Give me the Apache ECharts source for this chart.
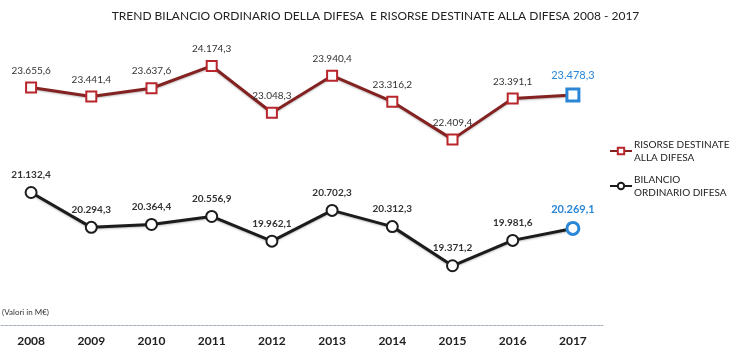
<!DOCTYPE html>
<html><head><meta charset="utf-8">
<script src="https://cdn.jsdelivr.net/npm/echarts@6/dist/echarts.min.js"></script>
<style>html,body{margin:0;padding:0;background:#fff}#c{width:751px;height:350px}</style>
</head><body><div id="c"></div>
<script>
const years = ['2008','2009','2010','2011','2012','2013','2014','2015','2016','2017'];
const risorse = [23655.6, 23441.4, 23637.6, 24174.3, 23048.3, 23940.4, 23316.2, 22409.4, 23391.1, 23478.3];
const bilancio = [21132.4, 20294.3, 20364.4, 20556.9, 19962.1, 20702.3, 20312.3, 19371.2, 19981.6, 20269.1];
const seriesNames = ['RISORSE DESTINATE\nALLA DIFESA', 'BILANCIO\nORDINARIO DIFESA'];

function fmt(v){
  const parts = v.toFixed(1).split('.');
  return parts[0].replace(/\B(?=(\d{3})+(?!\d))/g, '.') + ',' + parts[1];
}
const blue = '#2b86d6';
function items(arr){
  return arr.map((v,i)=> i === arr.length-1 ? {
    value: v,
    symbolSize: 12,
    itemStyle: {borderColor: blue, borderWidth: 3, color:'#fff'},
    label: {color: blue, fontSize: 11}
  } : v);
}
const chart = echarts.init(document.getElementById('c'));
chart.setOption({
  animation: false,
  backgroundColor: '#fff',
  textStyle: {fontFamily: 'Lato'},
  title: {
    text: 'TREND BILANCIO ORDINARIO DELLA DIFESA  E RISORSE DESTINATE ALLA DIFESA 2008 - 2017',
    left: 'center', top: 5,
    textStyle: {fontSize: 12, fontWeight: 'normal', color: '#222', fontFamily: 'Lato'}
  },
  graphic: [{type:'text', left: 2, top: 308, style:{text:'(Valori in M€)', fontSize: 8, fill:'#333', fontFamily:'Lato'}}],
  legend: {
    orient: 'vertical', left: 604, top: 133, itemGap: 9, itemWidth: 22, itemHeight: 8,
    textStyle: {fontSize: 10, color: '#222', lineHeight: 13, fontFamily: 'Lato', padding: [0,0,0,-3]},
    data: seriesNames
  },
  grid: {left: 1, width: 602, top: 31.6, bottom: 25.1},
  xAxis: {
    type: 'category', data: years, boundaryGap: true,
    axisLine: {lineStyle: {color: '#a9b4bf', width: 1, type: [3,1]}},
    axisTick: {show: false},
    axisLabel: {margin: 10, fontSize: 12, fontWeight: 'bold', color: '#222', fontFamily: 'Lato'}
  },
  yAxis: {type: 'value', min: 17950, max: 25000, show: false, splitLine: {show: false}},
  series: [
    {
      name: seriesNames[0], type: 'line', data: items(risorse),
      symbol: 'rect', symbolSize: 10,
      lineStyle: {color: '#842222', width: 3, shadowColor:'rgba(0,0,0,0.25)', shadowBlur: 2, shadowOffsetY: 1},
      itemStyle: {color: '#fff', borderColor: '#b8262c', borderWidth: 2},
      label: {show: true, position: 'top', distance: 6, formatter: p => fmt(p.value), fontSize: 10, color: '#333', fontFamily: 'Lato'},
      z: 3
    },
    {
      name: seriesNames[1], type: 'line', data: items(bilancio),
      symbol: 'circle', symbolSize: 11,
      lineStyle: {color: '#1c1c1c', width: 3, shadowColor:'rgba(0,0,0,0.25)', shadowBlur: 2, shadowOffsetY: 1},
      itemStyle: {color: '#fff', borderColor: '#1c1c1c', borderWidth: 2},
      label: {show: true, position: 'top', distance: 6, formatter: p => fmt(p.value), fontSize: 10, fontWeight: 'bold', color: '#333', fontFamily: 'Lato'},
      z: 3
    }
  ]
});
</script></body></html>
